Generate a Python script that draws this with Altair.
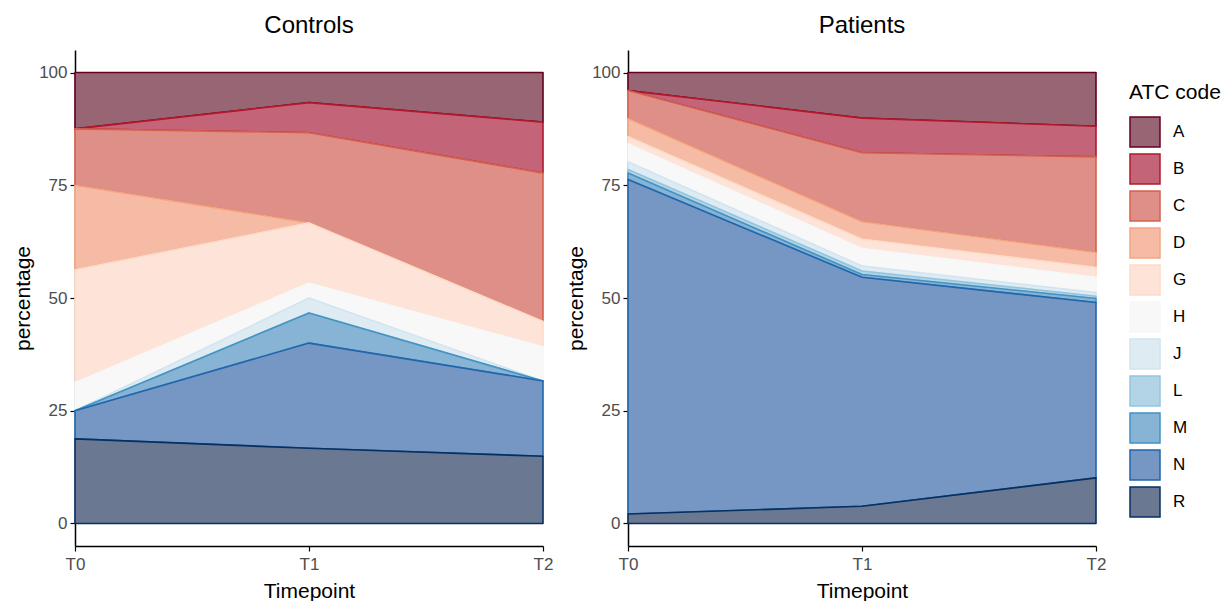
import altair as alt
import pandas as pd

codes = ["A", "B", "C", "D", "G", "H", "J", "L", "M", "N", "R"]
timepoints = ["T0", "T1", "T2"]
groups = ["Controls", "Patients"]

# percentages per ATC code (order of `codes`) at each timepoint
controls_T0 = [12.5, 0.0, 12.5, 18.75, 25.0, 6.25, 0.0, 0.0, 0.0, 6.25, 18.75]
controls_T1 = [6.67, 6.67, 20.0, 0.0, 13.33, 3.33, 3.33, 0.0, 6.67, 23.33, 16.67]
controls_T2 = [11.0, 11.3, 32.9, 0.0, 5.6, 7.6, 0.0, 0.0, 0.0, 16.7, 14.9]
patients_T0 = [4.0, 0.0, 6.2, 4.0, 1.6, 4.0, 1.7, 0.8, 1.4, 74.2, 2.1]
patients_T1 = [10.1, 7.7, 15.3, 3.8, 2.1, 3.9, 1.1, 0.8, 0.6, 50.8, 3.8]
patients_T2 = [11.9, 6.8, 21.2, 3.3, 2.2, 3.4, 0.8, 0.5, 0.9, 38.9, 10.1]

fill_colors = ["#976573", "#c46478", "#de8f87", "#f5bba5", "#fde3d8", "#f8f8f8",
               "#dfebf3", "#b3d4e6", "#87b3d4", "#7697c4", "#6b7891"]
line_colors = ["#67001f", "#b2182b", "#d6604d", "#f4a582", "#fddbc7", "#f7f7f7",
               "#d1e5f0", "#92c5de", "#4393c3", "#2166ac", "#053061"]

series = {
    "Controls": [controls_T0, controls_T1, controls_T2],
    "Patients": [patients_T0, patients_T1, patients_T2],
}

rows = []
for g in groups:
    for t, vals in zip(timepoints, series[g]):
        for i, (c, v) in enumerate(zip(codes, vals)):
            rows.append({"group": g, "time": t, "code": c, "pct": v,
                         "rank": len(codes) - 1 - i})
df = pd.DataFrame(rows)

fill_scale = alt.Scale(domain=codes, range=fill_colors)
stroke_scale = alt.Scale(domain=codes, range=line_colors)


def panel(g):
    return alt.Chart(df[df.group == g]).mark_area(
        strokeWidth=1.6, strokeJoin="round"
    ).encode(
        x=alt.X("time:O", sort=timepoints,
                scale=alt.Scale(type="point", padding=0),
                axis=alt.Axis(title="Timepoint", labelAngle=0)),
        y=alt.Y("pct:Q", stack="zero",
                scale=alt.Scale(domain=[-5, 105], nice=False, zero=False),
                axis=alt.Axis(title="percentage", values=[0, 25, 50, 75, 100])),
        fill=alt.Fill("code:N", scale=fill_scale,
                      legend=alt.Legend(title="ATC code")),
        stroke=alt.Stroke("code:N", scale=stroke_scale,
                          legend=alt.Legend(title="ATC code")),
        order=alt.Order("rank:Q", sort="ascending"),
    ).properties(width=468, height=496,
                 title=alt.TitleParams(g, fontSize=24, fontWeight="normal",
                                       font="Liberation Sans", color="black",
                                       offset=12))


chart = alt.hconcat(panel("Controls"), panel("Patients"), spacing=12).configure_view(
    stroke=None
).configure_axis(
    grid=False,
    domainColor="black",
    domainWidth=1.5,
    tickColor="black",
    tickWidth=1.2,
    tickSize=5,
    labelFont="Liberation Sans",
    labelFontSize=17,
    labelColor="#4d4d4d",
    titleFont="Liberation Sans",
    titleFontSize=21,
    titleFontWeight="normal",
    titleColor="black",
).configure_axisY(
    labelPadding=3,
    titlePadding=5,
).configure_axisX(
    labelPadding=5,
    titlePadding=8,
).configure_legend(
    orient="none",
    legendX=1054,
    legendY=32,
    titleFont="Liberation Sans",
    titleFontSize=21,
    titleFontWeight="normal",
    titleColor="black",
    titlePadding=13,
    labelFont="Liberation Sans",
    labelFontSize=17,
    labelColor="black",
    labelOffset=12,
    symbolType="square",
    symbolSize=900,
    symbolStrokeWidth=1.5,
    symbolOpacity=1,
    rowPadding=1,
).properties(background="white", padding={"left": 4, "top": 6, "right": 0, "bottom": 0})

chart.save("out.html", embed_options={"renderer": "svg", "actions": False})
